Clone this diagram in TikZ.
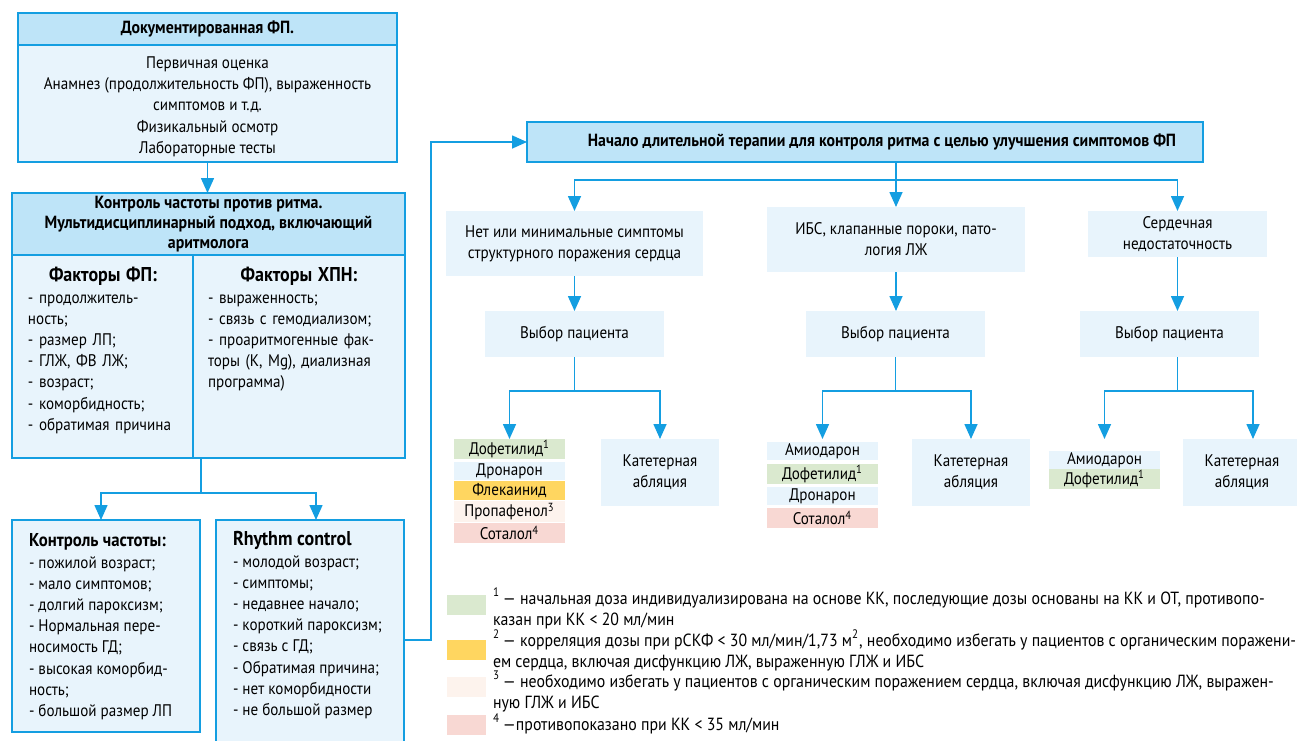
\documentclass[tikz,border=0pt]{standalone}
\usepackage{fontspec}
\setmainfont{PT Sans}[FakeStretch=0.9]
\definecolor{flowBlue}{RGB}{20,158,225}
\definecolor{headFill}{RGB}{190,228,248}
\definecolor{boxFill}{RGB}{232,244,252}
\definecolor{dofGreen}{RGB}{218,233,207}
\definecolor{flecYellow}{RGB}{255,214,96}
\definecolor{propPale}{RGB}{253,243,237}
\definecolor{sotPink}{RGB}{248,216,211}
\usetikzlibrary{arrows.meta,positioning}

\begin{document}
\begin{tikzpicture}[x=0.5pt, y=-0.5pt,
    every node/.style={inner sep=0pt, outer sep=0pt, font=\fontsize{8.4}{10.6}\selectfont},
    hdrbox/.style={draw=flowBlue, line width=1.1pt, fill=headFill, anchor=north west,
      align=center, font=\fontsize{8.8}{10.2}\selectfont\bfseries},
    panel/.style={draw=flowBlue, line width=1.1pt, fill=boxFill, anchor=north west, align=center},
    cell/.style={fill=boxFill, anchor=north west, align=center},
    drug/.style={anchor=north, minimum width=55.5pt, minimum height=9.5pt},
    txt/.style={anchor=north west, align=left},
    note/.style={txt, font=\fontsize{8.8}{10.6}\selectfont},
    swatch/.style={anchor=north west, minimum width=19.5pt, minimum height=10pt},
    link/.style={draw=flowBlue, line width=0.8pt},
    arr/.style={link, -{Triangle[width=6.5pt,length=7.5pt]}}
  ]
  \useasboundingbox (0,0) rectangle (1297,740);

  % Left column: assessment
  \node[hdrbox, minimum width=189.5pt, minimum height=16pt] (doc) at (18,13) {Документированная ФП.};
  \node[panel, minimum width=189.5pt, minimum height=58.5pt] (eval) at (18,45)
    {\rule{0pt}{9pt}Первичная оценка\\Анамнез (продолжительность ФП), выраженность\\симптомов и т.д.\\Физикальный осмотр\\Лабораторные тесты};
  \node[hdrbox, minimum width=196.5pt, minimum height=31pt] (choice) at (12,193)
    {Контроль частоты против ритма.\\Мультидисциплинарный подход, включающий\\аритмолога};
  \node[panel, minimum width=90.5pt, minimum height=101.5pt] (afib) at (12,255) {};
  \node[panel, minimum width=106pt, minimum height=101.5pt] (ckd) at (193,255) {};
  \node[txt, text width=75pt] (afibtx) at (28,267)
    {{\centering\fontsize{10}{10.6}\selectfont\bfseries\strut Факторы ФП:\par}%
     - продолжитель-\\ность;\\- размер ЛП;\\- ГЛЖ, ФВ ЛЖ;\\- возраст;\\- коморбидность;\\- обратимая причина};
  \node[txt, text width=91pt] (ckdtx) at (208,267)
    {{\centering\fontsize{10}{10.6}\selectfont\bfseries\strut Факторы ХПН:\par}%
     - выраженность;\\- связь с гемодиализом;\\- проаритмогенные фак-\\торы (K, Mg), диализная\\программа)};
  \draw[arr] (eval.south) -- (eval.south |- choice.north);

  % Rate or rhythm
  \node[panel, minimum width=94pt, minimum height=106pt] (rate) at (12,520) {};
  \node[panel, minimum width=94pt, minimum height=115pt] (rhythm) at (216,520) {};
  \node[txt] (ratetx) at (29,532)
    {{\fontsize{9.3}{10.6}\selectfont\bfseries\strut Контроль частоты:}\\- пожилой возраст;\\- мало симптомов;\\- долгий пароксизм;\\- Нормальная пере-\\носимость ГД;\\- высокая коморбид-\\ность;\\- большой размер ЛП};
  \node[txt] (rhythmtx) at (233,531)
    {{\fontsize{10}{10.6}\selectfont\bfseries\strut Rhythm control}\\- молодой возраст;\\- симптомы;\\- недавнее начало;\\- короткий пароксизм;\\- связь с ГД;\\- Обратимая причина;\\- нет коморбидности\\- не большой размер};
  \coordinate (split) at (201,493);
  \draw[link] (split |- afib.south) -- (split);
  \draw[arr] (split) -| ([xshift=-2.5pt]rate.north);
  \draw[arr] (split) -| ([xshift=3pt]rhythm.north);

  % Long-term rhythm control
  \node[hdrbox, minimum width=338pt, minimum height=20pt] (start) at (527,122)
    {\hspace*{17pt}Начало длительной терапии для контроля ритма с целью улучшения симптомов ФП};
  \coordinate (fb) at (431,640);
  \draw[arr] (fb -| rhythm.east) -- (fb) |- (start.west);

  \node[cell, minimum width=128.5pt, minimum height=32.5pt] (sym1) at (446,211)
    {Нет или минимальные симптомы\\структурного поражения сердца};
  \node[cell, minimum width=129pt, minimum height=32.5pt] (sym2) at (767,207)
    {ИБС, клапанные пороки, пато-\\логия ЛЖ};
  \node[cell, minimum width=89.5pt, minimum height=23pt] (sym3) at (1088,211)
    {Сердечная\\недостаточность};
  \node[cell, minimum width=89.5pt, minimum height=23pt] (sel1) at (485,311) {Выбор пациента};
  \node[cell, minimum width=89.5pt, minimum height=23pt] (sel2) at (806,311) {Выбор пациента};
  \node[cell, minimum width=89.5pt, minimum height=23pt] (sel3) at (1080,311) {Выбор пациента};

  \coordinate (fork) at (0,180);
  \draw[arr] (start.south -| sym2.north) -- (sym2.north);
  \draw[arr] (fork -| sym2.north) -| (sym1.north);
  \draw[arr] (fork -| sym2.north) -| (sym3.north);
  \draw[arr] (sym1.south) -- (sel1.north);
  \draw[arr] (sym2.south) -- (sym2.south |- sel2.north);
  \draw[arr] (sym3.south) -- (sym3.south |- sel3.north);

  % Drugs
  \node[drug, fill=dofGreen, minimum height=10pt] (d1a) at (509.5,439) {Дофетилид\textsuperscript{1}};
  \node[drug, fill=boxFill, minimum height=9pt] (d1b) at (509.5,462) {Дронарон};
  \node[drug, fill=flecYellow] (d1c) at (509.5,481) {Флекаинид};
  \node[drug, fill=propPale, minimum height=10.5pt] (d1d) at (509.5,501) {Пропафенол\textsuperscript{3}};
  \node[drug, fill=sotPink, minimum height=10pt] (d1e) at (509.5,523) {Соталол\textsuperscript{4}};

  \node[drug, fill=boxFill, minimum height=9pt] (d2a) at (822.5,442) {Амиодарон};
  \node[drug, fill=dofGreen, minimum height=10pt] (d2b) at (822.5,464) {Дофетилид\textsuperscript{1}};
  \node[drug, fill=boxFill, minimum height=9pt] (d2c) at (822.5,487) {Дронарон};
  \node[drug, fill=sotPink, minimum height=10pt] (d2d) at (822.5,508) {Соталол\textsuperscript{4}};

  \node[drug, fill=boxFill, minimum height=9pt] (d3a) at (1104.5,451) {Амиодарон};
  \node[drug, fill=dofGreen, minimum height=10pt] (d3b) at (1104.5,469) {Дофетилид\textsuperscript{1}};

  \node[cell, minimum width=59pt, minimum height=33.5pt] (kat1) at (601,439) {Катетерная\\абляция};
  \node[cell, minimum width=59pt, minimum height=33.5pt] (kat2) at (912,439) {Катетерная\\абляция};
  \node[cell, minimum width=59pt, minimum height=33.5pt] (kat3) at (1183,439) {Катетерная\\абляция};

  \coordinate (fork2) at (0,391);
  \draw[link] (sel1.south) -- (fork2 -| sel1.south);
  \draw[arr] (fork2 -| sel1.south) -| (d1a.north |- kat1.north);
  \draw[arr] (fork2 -| sel1.south) -| (kat1.north);
  \draw[link] (sel2.south) -- (fork2 -| sel2.south);
  \draw[arr] (fork2 -| sel2.south) -| (d2a.north |- kat2.north);
  \draw[arr] (fork2 -| sel2.south) -| (kat2.north);
  \draw[link] (sym3.south |- sel3.south) -- (fork2 -| sym3.south);
  \draw[arr] (fork2 -| sym3.south) -| (d3a.north |- kat3.north);
  \draw[arr] (fork2 -| sym3.south) -| ([xshift=5.5pt]kat3.north);

  % Legend
  \node[swatch, fill=dofGreen] (sw1) at (447,595) {};
  \node[swatch, fill=flecYellow] (sw2) at (447,640) {};
  \node[swatch, fill=propPale] (sw3) at (447,677) {};
  \node[swatch, fill=sotPink] (sw4) at (447,715) {};
  \node[note] (leg1) at (493,588)
    {\strut\textsuperscript{1}\,— начальная доза индивидуализирована на основе КК, последующие дозы основаны на КК и ОТ, противопо-\\казан при КК < 20 мл/мин};
  \node[note] (leg2) at (493,630)
    {\strut\textsuperscript{2}\,— корреляция дозы при рСКФ < 30 мл/мин/1,73 м\textsuperscript{2}, необходимо избегать у пациентов с органическим поражени-\\ем сердца, включая дисфункцию ЛЖ, выраженную ГЛЖ и ИБС};
  \node[note] (leg3) at (493,671)
    {\strut\textsuperscript{3}\,— необходимо избегать у пациентов с органическим поражением сердца, включая дисфункцию ЛЖ, выражен-\\ную ГЛЖ и ИБС};
  \node[note] (leg4) at (493,714)
    {\strut\textsuperscript{4}\,—противопоказано при КК < 35 мл/мин};
\end{tikzpicture}
\end{document}
